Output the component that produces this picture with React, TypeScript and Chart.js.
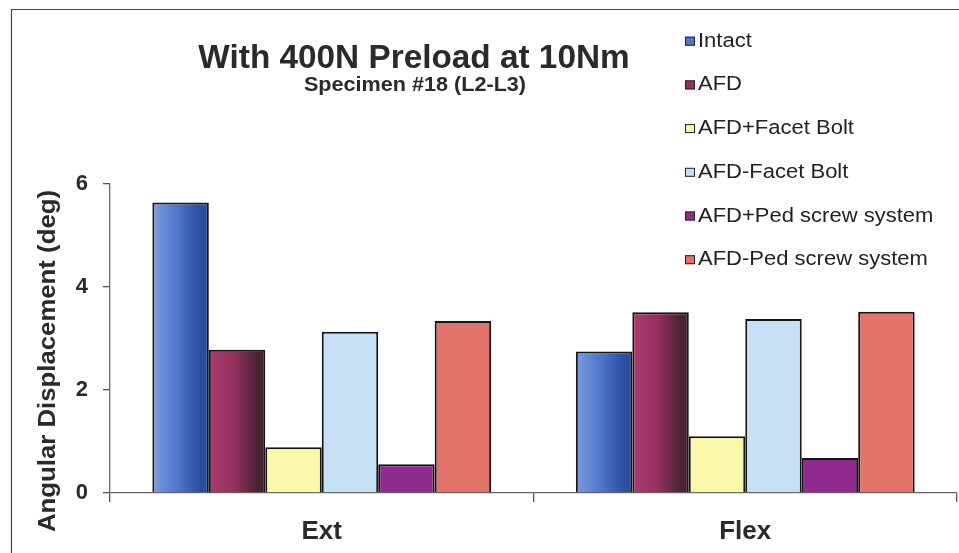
import React, { useEffect, useRef } from "react";
import { Chart, registerables } from "chart.js";

Chart.register(...registerables);

const categories = ["Ext", "Flex"];
const seriesNames = [
  "Intact",
  "AFD",
  "AFD+Facet Bolt",
  "AFD-Facet Bolt",
  "AFD+Ped screw system",
  "AFD-Ped screw system",
];
const intact = [5.64, 2.75];
const afd = [2.78, 3.51];
const afdPlusFacet = [0.89, 1.1];
const afdMinusFacet = [3.13, 3.38];
const afdPlusPed = [0.56, 0.68];
const afdMinusPed = [3.34, 3.52];
const yTicks = [0, 2, 4, 6];

const titleText = "With 400N Preload at 10Nm";
const subtitleText = "Specimen #18 (L2-L3)";
const yTitleText = "Angular Displacement (deg)";

const FONT = "'Liberation Sans', Arial, Helvetica, sans-serif";
const CAT_PCT = 0.8;

const palette: Array<{ stops: string[]; solid: string }> = [
  { stops: ["#7d9de0", "#4f74c9", "#2b4e9e"], solid: "#5478cc" },
  { stops: ["#ad3b70", "#93305e", "#4a2434"], solid: "#8c2f5a" },
  { stops: [], solid: "#f9f8ab" },
  { stops: [], solid: "#c6e1f5" },
  { stops: [], solid: "#8e2b8c" },
  { stops: [], solid: "#e2726a" },
];

function makeBg(i: number) {
  const p = palette[i];
  if (!p.stops.length) return p.solid;
  return (ctx: any) => {
    const chart = ctx.chart;
    const xs = chart.scales && chart.scales.x;
    if (ctx.type !== "data" || !xs || !chart.chartArea) return p.solid;
    const n = chart.data.datasets.length;
    const catW = ((xs.right - xs.left) / chart.data.labels.length) * CAT_PCT;
    const bw = catW / n;
    const center = xs.getPixelForValue(ctx.dataIndex);
    const left = center - catW / 2 + ctx.datasetIndex * bw;
    const g = chart.ctx.createLinearGradient(left, 0, left + bw, 0);
    g.addColorStop(0, p.stops[0]);
    g.addColorStop(0.45, p.stops[1]);
    g.addColorStop(0.85, p.stops[2]);
    g.addColorStop(1, p.stops[2]);
    return g;
  };
}

function drawText(
  c: CanvasRenderingContext2D,
  s: string,
  x: number,
  y: number,
  font: string,
  align: CanvasTextAlign,
  sx: number,
  color: string,
  rot = 0
) {
  c.save();
  c.translate(x, y);
  if (rot) c.rotate(rot);
  c.scale(sx, 1);
  c.font = font;
  c.textAlign = align;
  c.textBaseline = "alphabetic";
  c.fillStyle = color;
  c.fillText(s, 0, 0);
  c.restore();
}

const decorPlugin = {
  id: "decor",
  afterDraw(chart: any) {
    const c: CanvasRenderingContext2D = chart.ctx;
    c.save();
    c.strokeStyle = "#444";
    c.lineWidth = 1.2;
    c.beginPath();
    c.moveTo(11.5, 560);
    c.lineTo(11.5, 9.5);
    c.lineTo(970, 9.5);
    c.stroke();
    c.restore();
    drawText(c, titleText, 414, 68, `bold 33px ${FONT}`, "center", 1.01, "#2a2a2a");
    drawText(c, subtitleText, 415, 91, `bold 20px ${FONT}`, "center", 1.08, "#2a2a2a");
    drawText(c, yTitleText, 55, 361, `bold 23px ${FONT}`, "center", 1.12, "#2a2a2a", -Math.PI / 2);
    const ds = chart.data.datasets;
    for (let i = 0; i < ds.length; i++) {
      const base = 46.7 + i * 43.7;
      c.save();
      c.fillStyle = palette[i].stops.length ? palette[i].stops[1] : palette[i].solid;
      c.fillRect(685, base - 10, 10, 9);
      c.strokeStyle = "#222";
      c.lineWidth = 1;
      c.strokeRect(685.5, base - 9.5, 9, 8);
      c.restore();
      drawText(c, ds[i].label, 698, base, `20px ${FONT}`, "left", 1.1, "#222");
    }
  },
};

export default function App() {
  const ref = useRef<HTMLCanvasElement | null>(null);
  useEffect(() => {
    if (!ref.current) return;
    const series = [intact, afd, afdPlusFacet, afdMinusFacet, afdPlusPed, afdMinusPed];
    const chart = new Chart(ref.current, {
      type: "bar",
      data: {
        labels: categories,
        datasets: series.map((d, i) => ({
          label: seriesNames[i],
          data: d,
          backgroundColor: makeBg(i) as any,
          borderColor: "#151515",
          borderWidth: 2,
          barPercentage: 1,
          categoryPercentage: CAT_PCT,
        })),
      },
      options: {
        responsive: false,
        animation: false,
        layout: { padding: { top: 184, right: 2, left: 0, bottom: 0 } },
        plugins: {
          legend: { display: false },
          title: { display: false },
          tooltip: { enabled: false },
        },
        scales: {
          x: {
            offset: true,
            grid: {
              offset: true,
              drawOnChartArea: false,
              drawTicks: true,
              tickLength: 9,
              color: "#555",
              lineWidth: 1.3,
            },
            border: { color: "#666", width: 1.3 },
            ticks: {
              color: "#2a2a2a",
              font: { family: FONT, size: 26, weight: "bold" },
              padding: 14,
            },
            afterFit: (s: any) => {
              s.height = 60;
            },
          },
          y: {
            min: 0,
            max: 6,
            afterBuildTicks: (s: any) => {
              s.ticks = yTicks.map((v) => ({ value: v }));
            },
            grid: {
              drawOnChartArea: false,
              drawTicks: true,
              tickLength: 7,
              color: "#555",
              lineWidth: 1.3,
            },
            border: { color: "#666", width: 1.3 },
            ticks: {
              color: "#2a2a2a",
              font: { family: FONT, size: 22, weight: "bold" },
              padding: 15,
            },
            afterFit: (s: any) => {
              s.width = 110;
            },
          },
        },
      },
      plugins: [decorPlugin],
    });
    chart.update("none");
    return () => chart.destroy();
  }, []);
  return (
    <div style={{ position: "fixed", left: 0, top: 0, width: 959, height: 553, background: "#fff" }}>
      <canvas ref={ref} width={959} height={553} style={{ display: "block" }} />
    </div>
  );
}
